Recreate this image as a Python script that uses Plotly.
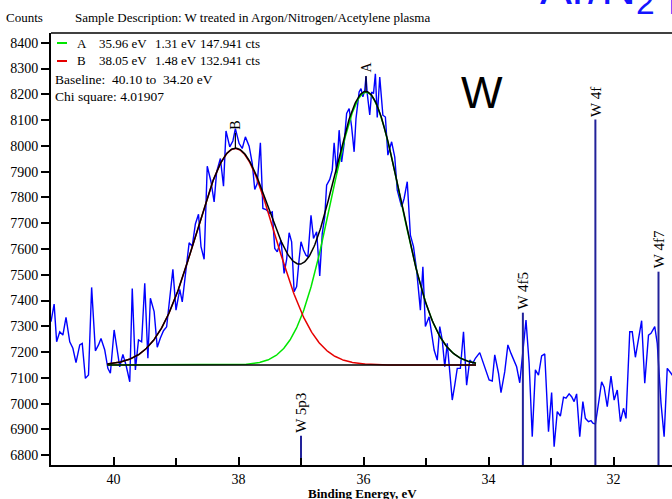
import numpy as np
import plotly.graph_objects as go

# ---- measured spectrum: binding energy (eV) and counts ----
energy_ev = [
    41.00, 40.95, 40.91, 40.86, 40.81, 40.76, 40.70, 40.65, 40.60, 40.54,
    40.50, 40.45, 40.40, 40.35, 40.29, 40.24, 40.20, 40.14, 40.09, 40.05,
    39.99, 39.94, 39.90, 39.85, 39.80, 39.74, 39.70, 39.65, 39.60, 39.55,
    39.50, 39.45, 39.41, 39.35, 39.30, 39.25,
    39.20, 39.15, 39.05, 39.00, 38.94, 38.90, 38.85, 38.79, 38.74, 38.69,
    38.64, 38.60, 38.55, 38.50, 38.44, 38.39, 38.35, 38.29, 38.24, 38.20,
    38.14, 38.09, 38.05, 37.99, 37.94, 37.89, 37.83, 37.78, 37.74, 37.70,
    37.65, 37.61, 37.56, 37.50,
    37.46, 37.42, 37.38, 37.32, 37.27, 37.23, 37.19, 37.15, 37.11, 37.07,
    37.03, 37.00, 36.96, 36.92, 36.89, 36.84, 36.80, 36.75, 36.70, 36.66,
    36.62, 36.59, 36.54, 36.50, 36.47, 36.43, 36.39, 36.35, 36.31, 36.27,
    36.23, 36.19, 36.15, 36.12, 36.07, 36.04, 36.01, 35.98, 35.96, 35.94,
    35.90, 35.87, 35.84, 35.81, 35.78, 35.74, 35.69, 35.65,
    35.61, 35.55, 35.50, 35.46, 35.39, 35.35, 35.30, 35.25, 35.20, 35.15,
    35.09, 35.05, 35.01, 34.95, 34.91, 34.87, 34.82, 34.78, 34.74, 34.70,
    34.66, 34.62, 34.58, 34.54, 34.50, 34.45, 34.40, 34.35, 34.30, 34.25,
    34.21, 34.14, 34.08, 34.03,
    33.99, 33.94, 33.90, 33.84, 33.80, 33.74, 33.69, 33.64, 33.59, 33.55,
    33.50, 33.45, 33.40, 33.35, 33.30, 33.25, 33.20, 33.15, 33.10, 33.04,
    32.99, 32.95, 32.90, 32.85, 32.80, 32.76, 32.71, 32.67, 32.63, 32.59,
    32.54, 32.49, 32.45, 32.40, 32.36, 32.33, 32.29, 32.23, 32.19, 32.15,
    32.10, 32.04, 31.99, 31.94, 31.89, 31.84, 31.80, 31.74, 31.70, 31.65,
    31.60, 31.55, 31.50, 31.44, 31.40, 31.34, 31.30, 31.24, 31.19, 31.14,
    31.08, 31.03,
]
counts = [
    7318, 7386, 7240, 7279, 7266, 7335, 7240, 7215, 7159, 7228,
    7234, 7098, 7111, 7451, 7205, 7228, 7253, 7208, 7137, 7118,
    7286, 7208, 7143, 7191, 7150, 7085, 7447, 7131, 7247, 7240,
    7467, 7176, 7409, 7357, 7219, 7255,
    7283, 7298, 7521, 7363, 7443, 7395, 7505, 7624, 7611, 7697,
    7735, 7609, 7560, 7921, 7861, 7783, 7899, 7951, 7844, 8058,
    7996, 8019, 8067, 8009, 7990, 8035, 7999, 7932, 7831, 7854,
    8012, 7757, 7753, 7738,
    7744, 7602, 7589, 7634, 7505, 7560, 7663, 7628, 7434, 7454,
    7560, 7628, 7596, 7576, 7570, 7731, 7641, 7667, 7495, 7660,
    7725, 7848, 7870, 7906, 8012, 7895, 8061, 7938, 8009, 8126,
    8145, 8074, 7977, 8106, 8209, 8222, 8190, 8216, 8270, 8203,
    8120, 8209, 8203, 8280, 8110, 8267, 8119, 8112,
    7964, 8016, 7957, 7828, 7764, 7796, 7861, 7654, 7609, 7518,
    7363, 7531, 7299, 7337, 7273, 7208, 7169, 7299, 7247, 7143,
    7234, 7131, 7014, 7072, 7137, 7137, 7279, 7072, 7169, 7157,
    7176, 7198, 7157, 7124,
    7092, 7088, 7189, 7118, 7043, 7124, 7228, 7195, 7169, 7143,
    7081, 7215, 7324, 7157, 6872, 7131, 7111, 7185, 7193, 6891,
    7043, 6833, 6969, 6952, 7025, 7021, 7038, 7027, 7008, 7038,
    6872, 7008, 6943, 6930, 6934, 6924, 6921, 7017, 7085, 7064,
    6988, 7107, 7014, 7053, 6930, 6982, 6943, 7279, 7279, 7180,
    7247, 7322, 7079, 7266, 7273, 7299, 7234, 7002, 6872, 7137,
    7118, 7100,
]
assert len(energy_ev) == len(counts)

# ---- peak fit parameters ----
peak_names = ["A", "B"]
peak_centers = [35.96, 38.05]
peak_fwhm = [1.31, 1.48]
peak_cts = [147.941, 132.941]
peak_heights = [1058, 840]
peak_colors = ["#00e600", "#e60000"]
baseline_range = [40.10, 34.20]
baseline_level = 7150
chi_square = 4.01907

# ---- reference line positions ----
ref_labels = ["W 5p3", "W 4f5", "W 4f", "W 4f7"]
ref_energies = [37.00, 33.45, 32.29, 31.28]
ref_tops = [6875, 7353, 8102, 7512]

X_RANGE = [41.0, 31.064]
Y_RANGE = [6762, 8438]

# plot area in page pixels
L, R, T, B = 51, 672, 33, 465
W_PX, H_PX = 672, 499
SERIF = "Liberation Serif"
SANS = "Liberation Sans"
BOX_FONT = dict(family=SERIF, size=13, color="black")


def px_x(px):
    return (px - L) / (R - L)


def px_y(py):
    return (B - py) / (B - T)


def gauss(x, c, fwhm, h):
    return h * np.exp(-4.0 * np.log(2.0) * (x - c) ** 2 / fwhm ** 2)


fig = go.Figure()

# spectrum
fig.add_trace(go.Scatter(x=energy_ev, y=counts, mode="lines",
                         line=dict(color="#0000ff", width=1.4),
                         hoverinfo="skip"))

# reference lines
for e, top in zip(ref_energies, ref_tops):
    fig.add_trace(go.Scatter(x=[e, e], y=[Y_RANGE[0], top], mode="lines",
                             line=dict(color="#22229a", width=2),
                             hoverinfo="skip"))

# fit curves over the baseline window
xf = np.linspace(baseline_range[0], baseline_range[1], 500)
comps = []
for c, w, h, col in zip(peak_centers, peak_fwhm, peak_heights, peak_colors):
    comp = gauss(xf, c, w, h)
    comps.append(comp)
    fig.add_trace(go.Scatter(x=xf, y=baseline_level + comp, mode="lines",
                             line=dict(color=col, width=1.5), hoverinfo="skip"))
base = np.full_like(xf, baseline_level, dtype=float)
fig.add_trace(go.Scatter(x=xf, y=base, mode="lines",
                         line=dict(color="black", width=1.6), hoverinfo="skip"))
envelope = baseline_level + sum(comps)
fig.add_trace(go.Scatter(x=xf, y=envelope, mode="lines",
                         line=dict(color="black", width=1.5), hoverinfo="skip"))

annotations = []

# peak markers
for name, c in zip(peak_names, peak_centers):
    top = baseline_level + sum(gauss(c, pc, pw, ph)
                               for pc, pw, ph in zip(peak_centers, peak_fwhm, peak_heights))
    fig.add_trace(go.Scatter(x=[c, c], y=[top, top + 60], mode="lines",
                             line=dict(color="black", width=1.2), hoverinfo="skip"))
    annotations.append(dict(x=c, y=top + 60, xref="x", yref="y", text=name,
                            textangle=-90, xanchor="center", yanchor="bottom",
                            showarrow=False, yshift=1,
                            font=dict(family=SERIF, size=14, color="black")))

# reference line labels
for lab, e, top in zip(ref_labels, ref_energies, ref_tops):
    annotations.append(dict(x=e, y=top, xref="x", yref="y", text=lab,
                            textangle=-90, xanchor="center", yanchor="bottom",
                            showarrow=False, yshift=1,
                            font=dict(family=SERIF, size=15, color="black")))

# fit summary box
row_y = [43, 61]
for name, c, w, cts, col, yy in zip(peak_names, peak_centers, peak_fwhm,
                                      peak_cts, peak_colors, row_y):
    fig.add_shape(type="line", xref="paper", yref="paper",
                  x0=px_x(57), x1=px_x(67), y0=px_y(yy), y1=px_y(yy),
                  line=dict(color=col, width=2))
    for txt, xp in [(name, 75), (f"{c:.2f} eV", 97), (f"{w:.2f} eV", 153),
                    (f"{cts:.3f} cts", 198)]:
        annotations.append(dict(x=px_x(xp), y=px_y(yy), xref="paper", yref="paper",
                                text=txt, xanchor="left", yanchor="middle",
                                showarrow=False, font=BOX_FONT))
annotations.append(dict(x=px_x(53), y=px_y(79), xref="paper", yref="paper",
                        text=f"Baseline:  {baseline_range[0]:.2f} to  {baseline_range[1]:.2f} eV",
                        xanchor="left", yanchor="middle", showarrow=False,
                        font=dict(family=SERIF, size=13.5, color="black")))
annotations.append(dict(x=px_x(53), y=px_y(96), xref="paper", yref="paper",
                        text=f"Chi square: {chi_square}",
                        xanchor="left", yanchor="middle", showarrow=False,
                        font=dict(family=SERIF, size=13.5, color="black")))

# header and captions
annotations.append(dict(x=px_x(4), y=px_y(17), xref="paper", yref="paper",
                        text="Counts", xanchor="left", yanchor="middle",
                        showarrow=False,
                        font=dict(family=SERIF, size=13, color="black")))
annotations.append(dict(x=px_x(73), y=px_y(17), xref="paper", yref="paper",
                        text="Sample Description: W treated in Argon/Nitrogen/Acetylene plasma",
                        xanchor="left", yanchor="middle", showarrow=False,
                        font=dict(family=SERIF, size=13, color="black")))
annotations.append(dict(x=px_x(362), y=px_y(493), xref="paper", yref="paper",
                        text="<b>Binding Energy, eV</b>", xanchor="center",
                        yanchor="middle", showarrow=False,
                        font=dict(family=SERIF, size=13, color="black")))
annotations.append(dict(x=px_x(459), y=px_y(92), xref="paper", yref="paper",
                        text="W", xanchor="left", yanchor="middle", showarrow=False,
                        font=dict(family=SANS, size=44, color="black")))
annotations.append(dict(x=px_x(538), y=px_y(-9), xref="paper", yref="paper",
                        text="Ar/N<sub>2</sub> plasma", xanchor="left",
                        yanchor="middle", showarrow=False,
                        font=dict(family=SANS, size=48, color="#1414ff")))

# top frame line
fig.add_shape(type="line", xref="paper", yref="paper", x0=0, x1=1, y0=1, y1=1,
              line=dict(color="black", width=1.5))

fig.update_layout(
    width=W_PX, height=H_PX,
    margin=dict(l=L, r=W_PX - R, t=T, b=H_PX - B),
    paper_bgcolor="white", plot_bgcolor="white",
    showlegend=False,
    annotations=annotations,
    xaxis=dict(range=X_RANGE, showline=True, linecolor="black", linewidth=2,
               ticks="inside", ticklen=8, tickwidth=1.5, tickcolor="black",
               tick0=0, dtick=2, showgrid=False, zeroline=False,
               minor=dict(dtick=1, ticks="inside", ticklen=7, tickwidth=1.5,
                          tickcolor="black", showgrid=False),
               tickfont=dict(family=SERIF, size=14, color="black")),
    yaxis=dict(range=Y_RANGE, showline=True, linecolor="black", linewidth=2,
               ticks="outside", ticklen=8, tickwidth=1.5, tickcolor="black",
               tick0=0, dtick=100, showgrid=False, zeroline=False,
               tickfont=dict(family=SERIF, size=14, color="black")),
)

fig.write_html("out.html")
